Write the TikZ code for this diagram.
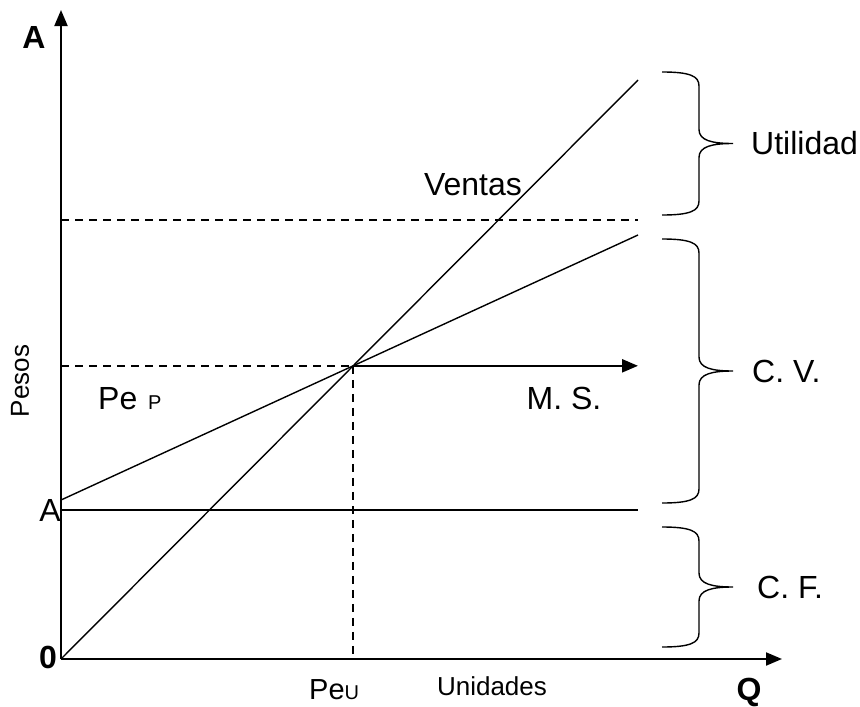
\documentclass[tikz,border=0pt]{standalone}
\usepackage{fontspec}
\setmainfont{Liberation Sans}
\usetikzlibrary{arrows.meta}

%Curly brace from top to bottom (y values)
\newcommand{\llave}[2]{%
  \pgfmathsetmacro{\llavemid}{(#1+#2)/2}
  \draw[brace line] (662,#1) .. controls (690,#1) and (699,#1+4) .. (699,#1+14)
    -- (699,\llavemid-14) .. controls (699,\llavemid-3) and (712,\llavemid) .. (733,\llavemid)
    .. controls (712,\llavemid) and (699,\llavemid+3) .. (699,\llavemid+14)
    -- (699,#2-14) .. controls (699,#2-4) and (690,#2) .. (662,#2);
}

\begin{document}
\begin{tikzpicture}
[x=1pt,y=-1pt,>={Triangle[length=16pt,width=13pt]},
 axis/.style={line width=2pt},
 curve/.style={line width=1.4pt},
 guide/.style={line width=1.4pt,dash pattern=on 8pt off 6pt},
 brace line/.style={line width=1.4pt},
 lbl/.style={inner sep=0pt,font=\fontsize{32}{38}\selectfont},
 bold lbl/.style={inner sep=0pt,font=\fontsize{32}{38}\selectfont\bfseries},
 small lbl/.style={inner sep=0pt,font=\fontsize{26}{30}\selectfont},]

\useasboundingbox (0,0) rectangle (860,707);

%Points
\coordinate (O) at (61,659);
\coordinate (Ytop) at (61,10);
\coordinate (Xend) at (782,659);
\coordinate (Vend) at (638,80);
\coordinate (CT0) at (61,500);
\coordinate (CTend) at (638,235);
\coordinate (A) at (61,510);
\coordinate (Aend) at (638,510);
\coordinate (U) at (638,220);
\coordinate (E) at (intersection of O--Vend and CT0--CTend);

%Axes
\draw[axis,->] (O) -- (Ytop);
\draw[axis,->] (O) -- (Xend);

%Ventas, costo total y costo fijo
\draw[curve] (O) -- (Vend);
\draw[curve] (CT0) -- (CTend);
\draw[curve] (A) -- (Aend);

%Dashed lines
\draw[guide] (O |- U) -- (U);
\draw[guide] (O |- E) -- (E);
\draw[guide] (E) -- (E |- O);

%Margen de seguridad
\draw[line width=2.4pt,->] (E) -- (E -| Aend);

%Braces
\llave{72}{215}
\llave{239}{503}
\llave{527}{647}

%Labeling
\node (yA) at (34,37) [bold lbl] {A};
\node (cero) at (48,657) [bold lbl] {0};
\node (Q) at (749,692) [bold lbl] {Q};
\node (Afijo) at (50,510) [lbl] {A};
\node (unid) at (492,686) [small lbl] {Unidades};
\node (pesos) at (20,381) [small lbl,rotate=90] {Pesos};
\node (ventas) at (473,185) [lbl] {Ventas};
\node (ms) at (564,398) [lbl] {M. S.};
\node (pep) at (98,399) [lbl,anchor=west] {Pe\,{\fontsize{20}{24}\selectfont\ P}};
\node (peu) at (309,690) [lbl,anchor=west,font=\fontsize{29}{34}\selectfont] {Pe{\fontsize{20}{24}\selectfont U}};
\node (util) at (751,143) [lbl,anchor=west] {Utilidad};
\node (cv) at (752,371) [lbl,anchor=west] {C. V.};
\node (cf) at (757,587) [lbl,anchor=west] {C. F.};

\end{tikzpicture}
\end{document}
